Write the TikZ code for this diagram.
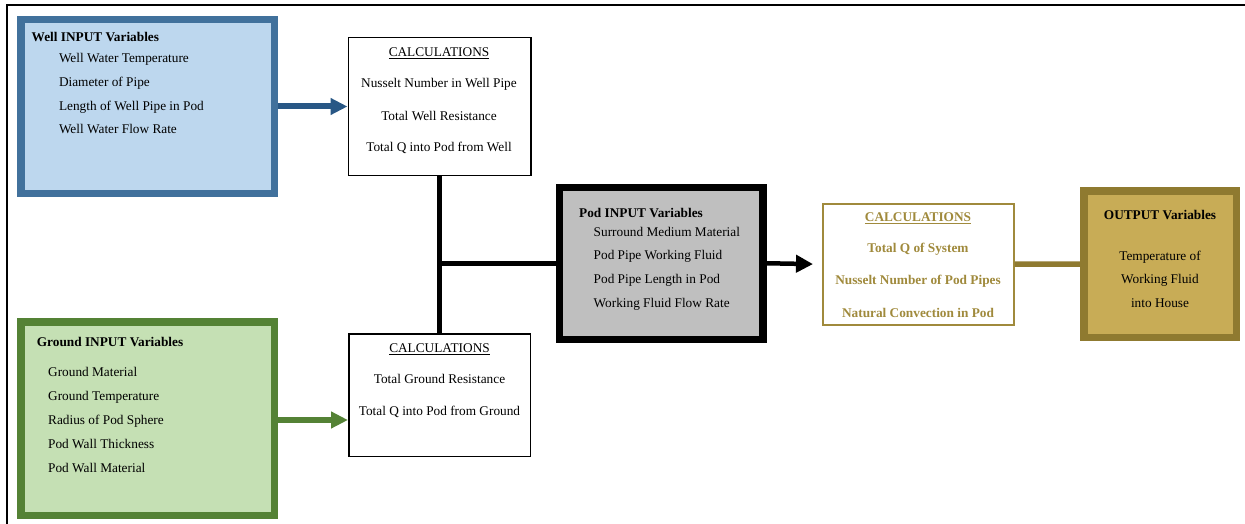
\documentclass[tikz,border=0pt]{standalone}
\usepackage{fontspec}
\setmainfont{Liberation Serif}
\usetikzlibrary{arrows.meta}
\definecolor{wellborder}{HTML}{41719C}
\definecolor{wellfill}{HTML}{BDD7EE}
\definecolor{wellarrow}{HTML}{285785}
\definecolor{grborder}{HTML}{548235}
\definecolor{grfill}{HTML}{C5E0B4}
\definecolor{podfill}{HTML}{BFBFBF}
\definecolor{goldtext}{HTML}{A08A3C}
\definecolor{outborder}{HTML}{8F7A30}
\definecolor{outfill}{HTML}{C8AC56}
\tikzset{
  txt/.style={inner sep=0pt, font=\fontsize{13.3}{16}\selectfont, text=black},
  ltxt/.style={txt, anchor=base west},
  ctxt/.style={txt, anchor=base},
  box/.style={inner sep=0pt, anchor=center},
  thickbox/.style={box, line width=7.5pt},
  calcbox/.style={box, draw=black, fill=white, line width=1.5pt},
}
\begin{document}
\begin{tikzpicture}[x=1pt,y=-1pt]
\useasboundingbox (0,0) rectangle (1245,524);
% frame
\draw[line width=1.2pt] (7,524) -- (7,5) -- (1245,5);

% boxes
\node[thickbox, draw=wellborder, fill=wellfill, minimum width=253.5pt, minimum height=173.5pt] (well) at (147.5,106.5) {};
\node[thickbox, draw=grborder, fill=grfill, minimum width=253.5pt, minimum height=193.5pt] (ground) at (147.5,418.5) {};
\node[calcbox, minimum width=182.5pt, minimum height=137.5pt] (calc1) at (439.5,106.5) {};
\node[calcbox, minimum width=181.5pt, minimum height=122.5pt] (calc2) at (439.5,395) {};
\node[thickbox, draw=black, fill=podfill, minimum width=203.5pt, minimum height=152pt] (pod) at (661,263.25) {};
\node[box, draw=goldtext, fill=white, line width=2pt, minimum width=191pt, minimum height=121.5pt] (calc3) at (918,264.25) {};
\node[thickbox, draw=outborder, fill=outfill, minimum width=152.5pt, minimum height=146.5pt] (out) at (1160,264) {};

% connectors
\draw[wellarrow, line width=6pt, -{Triangle[length=17pt,width=16pt]}] (well.east) -- (calc1.west);
\draw[grborder, line width=6pt, -{Triangle[length=17pt,width=16pt]}] (ground.east |- 0,420) -- (calc2.west |- 0,420);
\draw[black, line width=5pt] (calc1.south) -- (calc2.north);
\draw[black, line width=5pt] (pod.west) -- (pod.west -| calc1.south);
\draw[black, line width=4.5pt, shorten >=8.5pt, -{Triangle[length=17pt,width=17pt]}] (pod.east) -- (calc3.west);
\draw[outborder, line width=5.5pt] (calc3.east) -- (out.west);

% well texts
\node[ltxt, font=\fontsize{13.3}{16}\selectfont\bfseries] (wt) at (31.5,41.8) {Well INPUT Variables};
\node[ltxt] (w1) at (58.8,63) {Well Water Temperature};
\node[ltxt] (w2) at (58.8,86.5) {Diameter of Pipe};
\node[ltxt] (w3) at (58.8,110.2) {Length of Well Pipe in Pod};
\node[ltxt] (w4) at (58.8,133.8) {Well Water Flow Rate};

% ground texts
\node[ltxt, font=\fontsize{13.3}{16}\selectfont\bfseries] (gt) at (36.7,346) {Ground INPUT Variables};
\node[ltxt] (g1) at (48,376) {Ground Material};
\node[ltxt] (g2) at (48,400) {Ground Temperature};
\node[ltxt] (g3) at (48,424) {Radius of Pod Sphere};
\node[ltxt] (g4) at (48,448) {Pod Wall Thickness};
\node[ltxt] (g5) at (48,472) {Pod Wall Material};

% calc1 texts
\node[ctxt] (c1t) at (439,56.5) {\underline{CALCULATIONS}};
\node[ctxt] (c11) at (439,88) {Nusselt Number in Well Pipe};
\node[ctxt] (c12) at (439,120.5) {Total Well Resistance};
\node[ctxt] (c13) at (439,152) {Total Q into Pod from Well};

% calc2 texts
\node[ctxt] (c2t) at (439.5,352.5) {\underline{CALCULATIONS}};
\node[ctxt] (c21) at (439.5,383.5) {Total Ground Resistance};
\node[ctxt] (c22) at (439.5,415.5) {Total Q into Pod from Ground};

% pod texts
\node[ltxt, font=\fontsize{13.3}{16}\selectfont\bfseries] (pt) at (579,217) {Pod INPUT Variables};
\node[ltxt] (p1) at (593.5,236.2) {Surround Medium Material};
\node[ltxt] (p2) at (593.5,259.5) {Pod Pipe Working Fluid};
\node[ltxt] (p3) at (593.5,283.5) {Pod Pipe Length in Pod};
\node[ltxt] (p4) at (593.5,307.5) {Working Fluid Flow Rate};

% calc3 texts
\node[ctxt, text=goldtext, font=\fontsize{13.3}{16}\selectfont\bfseries] (c3t) at (918,221.2) {\underline{CALCULATIONS}};
\node[ctxt, text=goldtext, font=\fontsize{13.3}{16}\selectfont\bfseries] (c31) at (918,252.8) {Total Q of System};
\node[ctxt, text=goldtext, font=\fontsize{13.3}{16}\selectfont\bfseries] (c32) at (918,284.5) {Nusselt Number of Pod Pipes};
\node[ctxt, text=goldtext, font=\fontsize{13.3}{16}\selectfont\bfseries] (c33) at (918,317.2) {Natural Convection in Pod};

% output texts
\node[ctxt, font=\fontsize{13.3}{16}\selectfont\bfseries] (ot) at (1160,219.5) {OUTPUT Variables};
\node[ctxt] (o1) at (1160,260.5) {Temperature of};
\node[ctxt] (o2) at (1160,283.8) {Working Fluid};
\node[ctxt] (o3) at (1160,307.8) {into House};
\end{tikzpicture}
\end{document}
